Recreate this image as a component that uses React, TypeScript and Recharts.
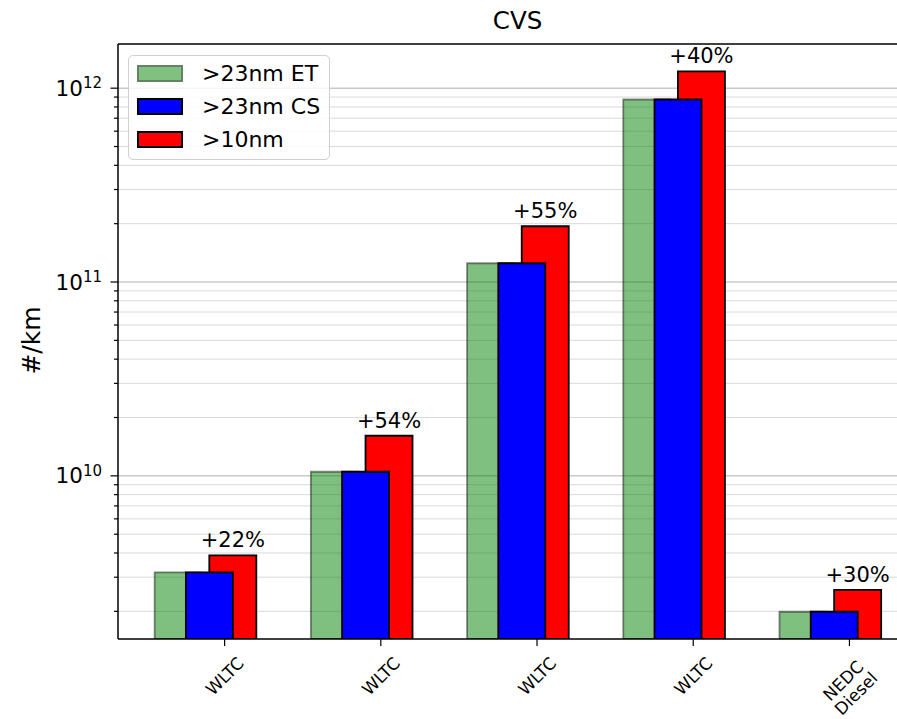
import React from 'react';
import { BarChart, Bar, XAxis, YAxis, CartesianGrid, ReferenceLine, Legend, LabelList } from 'recharts';

// ---------- data ----------
const categories = ['WLTC', 'WLTC', 'WLTC', 'WLTC', 'NEDC\nDiesel'];
const et23 = [3.18e9, 1.05e10, 1.25e11, 8.74e11, 1.99e9];
const cs23 = [3.18e9, 1.05e10, 1.25e11, 8.74e11, 1.99e9];
const nm10 = [3.89e9, 1.61e10, 1.94e11, 1.22e12, 2.58e9];
const increaseLabels = ['+22%', '+54%', '+55%', '+40%', '+30%'];
const seriesNames = ['>23nm ET', '>23nm CS', '>10nm'];
const yMajorTicks = [1e10, 1e11, 1e12];
const yMinorTicks = [
  2e9, 3e9, 4e9, 5e9, 6e9, 7e9, 8e9, 9e9,
  2e10, 3e10, 4e10, 5e10, 6e10, 7e10, 8e10, 9e10,
  2e11, 3e11, 4e11, 5e11, 6e11, 7e11, 8e11, 9e11,
];
const yDomain = [1.44e9, 1.69e12];
const xDomain = [-0.6825, 4.4325];

// ---------- styling ----------
const FONT = "'DejaVu Sans', sans-serif";
const GREEN = '#008000';
const BLUE = '#0000ff';
const RED = '#ff0000';
const seriesColors = [GREEN, BLUE, RED];
const OFF_G = -0.3;
const OFF_B = -0.1;
const OFF_R = 0.05;

const rows = categories.map((c, i) => ({
  idx: i,
  name: c,
  et: et23[i],
  cs: cs23[i],
  nm: nm10[i],
  label: increaseLabels[i],
}));

const yTicks = [...yMinorTicks, ...yMajorTicks].sort((a, b) => a - b);

const YTick = (props: any) => {
  const { x, y, payload } = props;
  const v = payload.value;
  const lg = Math.log10(v);
  const e = Math.round(lg);
  const major = Math.abs(lg - e) < 1e-6;
  return (
    <g>
      <line x1={x - (major ? 7.5 : 4)} x2={x} y1={y} y2={y} stroke="#000" strokeWidth={1.2} />
      {major && (
        <text x={x - 16} y={y + 7.5} textAnchor="end" fontSize={21.5} fontFamily={FONT} fill="#000">
          10<tspan dy={-7.5} fontSize={15}>{e}</tspan>
        </text>
      )}
    </g>
  );
};

const XTick = (props: any) => {
  const { x, y, payload } = props;
  const label = categories[Math.round(payload.value)] ?? '';
  const lines = label.split('\n');
  const n = lines.length;
  const lh = 18;
  const cy = y + 28 + (n - 1) * 11;
  return (
    <g transform={`translate(${x},${cy}) rotate(-45)`}>
      <text textAnchor="middle" fontSize={17} fontFamily={FONT} fill="#000">
        {lines.map((l, i) => (
          <tspan key={i} x={0} y={(i - (n - 1) / 2) * lh} dy="0.36em">
            {l}
          </tspan>
        ))}
      </text>
    </g>
  );
};

const LegendBox = () => (
  <div
    style={{
      position: 'relative',
      width: 202,
      height: 105,
      boxSizing: 'border-box',
      border: '1.5px solid #d0d0d0',
      borderRadius: 5,
      background: 'rgba(255,255,255,0.85)',
      fontFamily: FONT,
    }}
  >
    {seriesNames.map((s, i) => (
      <React.Fragment key={s}>
        <div
          style={{
            position: 'absolute',
            left: 8,
            top: 9 + i * 33,
            width: 46,
            height: 17,
            boxSizing: 'border-box',
            background: i === 0 ? 'rgb(128,192,128)' : seriesColors[i],
            border: i === 0 ? '2px solid rgb(100,130,100)' : '2px solid #000',
          }}
        />
        <div
          style={{
            position: 'absolute',
            left: 73,
            top: 9 + i * 33,
            height: 17,
            lineHeight: '17px',
            fontSize: 22,
            whiteSpace: 'nowrap',
            color: '#000',
          }}
        >
          {s}
        </div>
      </React.Fragment>
    ))}
  </div>
);

export default function App() {
  return (
    <div style={{ position: 'absolute', left: 0, top: 0, width: 897, height: 719, overflow: 'hidden', background: '#fff' }}>
      <BarChart width={917} height={719} data={rows} margin={{ top: 44, right: 0, bottom: 0, left: 0 }}>
        <CartesianGrid xAxisId="main" vertical={false} horizontalValues={yMinorTicks} stroke="#dadada" strokeWidth={1} />
        <CartesianGrid xAxisId="main" vertical={false} horizontalValues={yMajorTicks} stroke="#b0b0b0" strokeWidth={1} />
        <XAxis xAxisId="g" hide height={0} type="number" dataKey="idx" allowDataOverflow domain={[xDomain[0] - OFF_G, xDomain[1] - OFF_G]} />
        <XAxis xAxisId="b" hide height={0} type="number" dataKey="idx" allowDataOverflow domain={[xDomain[0] - OFF_B, xDomain[1] - OFF_B]} />
        <XAxis xAxisId="r" hide height={0} type="number" dataKey="idx" allowDataOverflow domain={[xDomain[0] - OFF_R, xDomain[1] - OFF_R]} />
        <XAxis
          xAxisId="main"
          type="number"
          dataKey="idx"
          domain={xDomain}
          allowDataOverflow
          ticks={[0, 1, 2, 3, 4]}
          interval={0}
          height={80}
          tickSize={7}
          tickLine={{ stroke: '#000', strokeWidth: 1.2 }}
          axisLine={{ stroke: '#000', strokeWidth: 1.5 }}
          tick={<XTick />}
        />
        <YAxis
          type="number"
          scale="log"
          domain={yDomain}
          allowDataOverflow
          ticks={yTicks}
          interval={0}
          width={118}
          tickSize={0}
          tickMargin={0}
          tickLine={false}
          axisLine={{ stroke: '#000', strokeWidth: 1.5 }}
          tick={<YTick />}
        />
        <Legend
          layout="horizontal"
          verticalAlign="middle"
          align="center"
          wrapperStyle={{ position: 'absolute', left: 128, top: 55, width: 202, height: 105 }}
          content={() => <LegendBox />}
        />
        <Bar
          xAxisId="g"
          dataKey="et"
          name={seriesNames[0]}
          barSize={47}
          fill={GREEN}
          fillOpacity={0.5}
          stroke="#000"
          strokeOpacity={0.45}
          strokeWidth={1.8}
          isAnimationActive={false}
        />
        <Bar
          xAxisId="r"
          dataKey="nm"
          name={seriesNames[2]}
          barSize={47}
          fill={RED}
          stroke="#000"
          strokeWidth={1.8}
          isAnimationActive={false}
        >
          <LabelList dataKey="label" position="top" offset={8} fontSize={21} fontFamily={FONT} fill="#000" />
        </Bar>
        <Bar
          xAxisId="b"
          dataKey="cs"
          name={seriesNames[1]}
          barSize={47}
          fill={BLUE}
          stroke="#000"
          strokeWidth={1.8}
          isAnimationActive={false}
        />
        <ReferenceLine xAxisId="main" y={yDomain[1]} stroke="#000" strokeWidth={1.5} ifOverflow="visible" />
      </BarChart>
      <svg width={897} height={719} style={{ position: 'absolute', left: 0, top: 0, pointerEvents: 'none' }}>
        <text x={517.5} y={29} textAnchor="middle" fontSize={24.5} fontFamily={FONT} fill="#000">
          CVS
        </text>
        <text
          x={31}
          y={340.5}
          transform="rotate(-90, 31, 340.5)"
          textAnchor="middle"
          dominantBaseline="central"
          fontSize={25}
          fontFamily={FONT}
          fill="#000"
        >
          #/km
        </text>
      </svg>
    </div>
  );
}
